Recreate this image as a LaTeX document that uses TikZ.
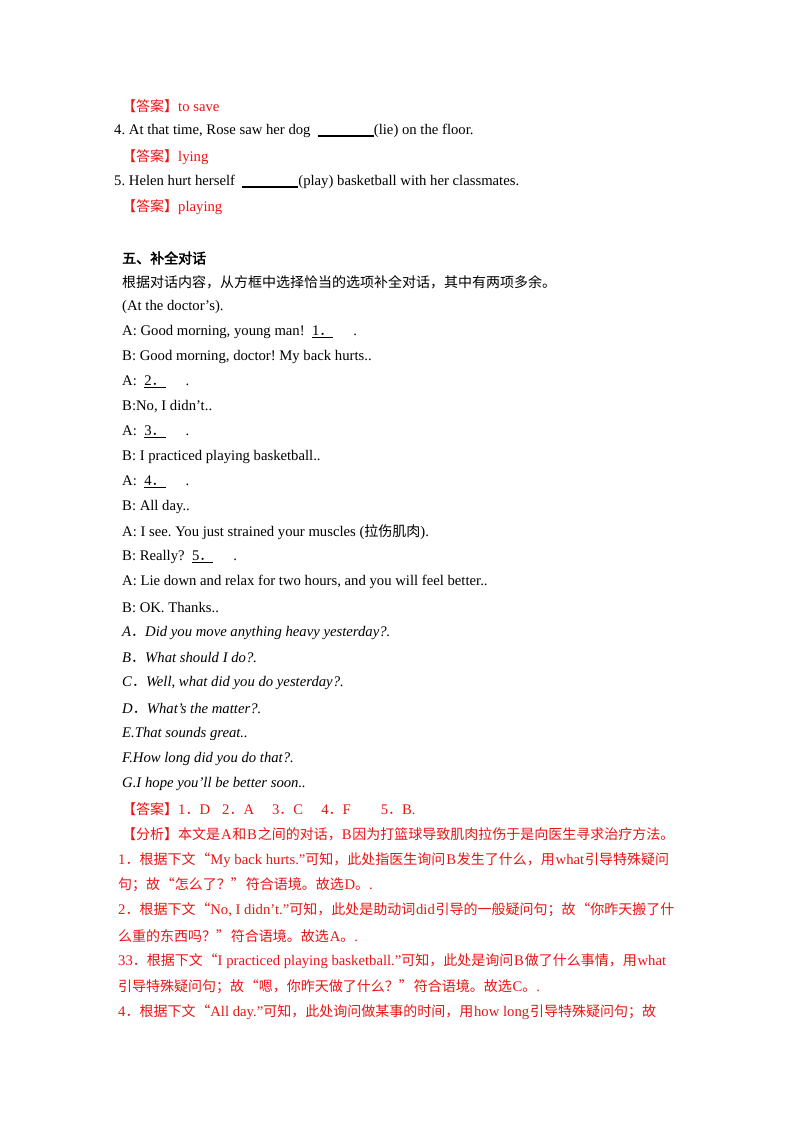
\documentclass[tikz,border=0pt]{standalone}
\usepackage{fontspec}
\setmainfont[Scale=1.05]{Liberation Serif}
\newfontfamily\cjk{Noto Sans CJK SC}
\newfontfamily\cjkb[FakeBold=2.5]{Noto Sans CJK SC}
\definecolor{ans}{RGB}{235,20,20}
\newcommand{\blank}{\rule[-2pt]{56pt}{1.3pt}}
\newcommand{\s}{\hspace{0.8pt}}
\frenchspacing
\begin{document}
\begin{tikzpicture}[x=1pt,y=-1pt,
  ln/.style={anchor=west,inner sep=0pt,font=\fontsize{14}{16}\selectfont},
  rd/.style={ln,text=ans},
  it/.style={ln,font=\fontsize{14}{16}\selectfont\itshape}]
\useasboundingbox (0,0) rectangle (800,1132);
\fill[white] (0,0) rectangle (800,1132);
\node[rd] (l1) at (122,106) {{\cjk【答案】}to save};
\node[ln] (l2) at (114,131) {4. At that time, Rose saw her dog \ \blank(lie) on the floor.};
\node[rd] (l3) at (122,157) {{\cjk【答案】}lying};
\node[ln] (l4) at (114,182) {5. Helen hurt herself \ \blank(play) basketball with her classmates.};
\node[rd] (l5) at (122,207) {{\cjk【答案】}playing};
\node[ln] (h) at (122,258) {\cjkb 五、补全对话};
\node[ln] (l6) at (122,282) {\cjk 根据对话内容，从方框中选择恰当的选项补全对话，其中有两项多余。};
\node[ln] (l7) at (122,307) {(At the doctor’s).};
\node[ln] (d1) at (122,332) {A: Good morning, young man! \ \underline{1{\cjk．}}\hspace{20pt}.};
\node[ln] (d2) at (122,357) {B: Good morning, doctor! My back hurts..};
\node[ln] (d3) at (122,382) {A: \ \underline{2{\cjk．}}\hspace{20pt}.};
\node[ln] (d4) at (122,407) {B:No, I didn’t..};
\node[ln] (d5) at (122,432) {A: \ \underline{3{\cjk．}}\hspace{20pt}.};
\node[ln] (d6) at (122,457) {B: I practiced playing basketball..};
\node[ln] (d7) at (122,482) {A: \ \underline{4{\cjk．}}\hspace{20pt}.};
\node[ln] (d8) at (122,507) {B: All day..};
\node[ln] (d9) at (122,532) {A: I see. You just strained your muscles ({\cjk 拉伤肌肉}).};
\node[ln] (d10) at (122,557) {B: Really? \ \underline{5{\cjk．}}\hspace{20pt}.};
\node[ln] (d11) at (122,582) {A: Lie down and relax for two hours, and you will feel better..};
\node[ln] (d12) at (122,607) {B: OK. Thanks..};
\node[it] (o1) at (122,633) {A{\cjk．}Did you move anything heavy yesterday?.};
\node[it] (o2) at (122,658) {B{\cjk．}What should I do?.};
\node[it] (o3) at (122,683) {C{\cjk．}Well, what did you do yesterday?.};
\node[it] (o4) at (122,709) {D{\cjk．}What’s the matter?.};
\node[it] (o5) at (122,734) {E.That sounds great..};
\node[it] (o6) at (122,759) {F.How long did you do that?.};
\node[it] (o7) at (122,784) {G.I hope you’ll be better soon..};
\node[rd] (a1) at (122,809) {{\cjk【答案】}1{\cjk．}D\hspace{12pt}2{\cjk．}A\hspace{18pt}3{\cjk．}C\hspace{18pt}4{\cjk．}F\hspace{30pt}5{\cjk．}B.};
\node[rd] (a2) at (122,834) {{\cjk【分析】本文是}\s A\s{\cjk 和}\s B\s{\cjk 之间的对话，}B\s{\cjk 因为打篮球导致肌肉拉伤于是向医生寻求治疗方法。}};
\node[rd] (a3) at (118,860) {1{\cjk．根据下文}\s{\cjk “}My back hurts.”{\cjk 可知，此处指医生询问}\s B\s{\cjk 发生了什么，用}\s what\s{\cjk 引导特殊疑问}};
\node[rd] (a4) at (118,885) {{\cjk 句；故}\s{\cjk “怎么了？”}\s{\cjk 符合语境。故选}\s D{\cjk 。}.};
\node[rd] (a5) at (118,910) {2{\cjk．根据下文}\s{\cjk “}No, I didn’t.”{\cjk 可知，此处是助动词}\s did\s{\cjk 引导的一般疑问句；故}\s{\cjk “你昨天搬了什}};
\node[rd] (a6) at (118,936) {{\cjk 么重的东西吗？”}\s{\cjk 符合语境。故选}\s A{\cjk 。}.};
\node[rd] (a7) at (118,961) {33{\cjk．根据下文}\s{\cjk “}I practiced playing basketball.”{\cjk 可知，此处是询问}\s B\s{\cjk 做了什么事情，用}\s what};
\node[rd] (a8) at (118,987) {{\cjk 引导特殊疑问句；故}\s{\cjk “嗯，你昨天做了什么？”}\s{\cjk 符合语境。故选}\s C{\cjk 。}.};
\node[rd] (a9) at (118,1012) {4{\cjk．根据下文}\s{\cjk “}All day.”{\cjk 可知，此处询问做某事的时间，用}\s how long\s{\cjk 引导特殊疑问句；故}};
\end{tikzpicture}
\end{document}
